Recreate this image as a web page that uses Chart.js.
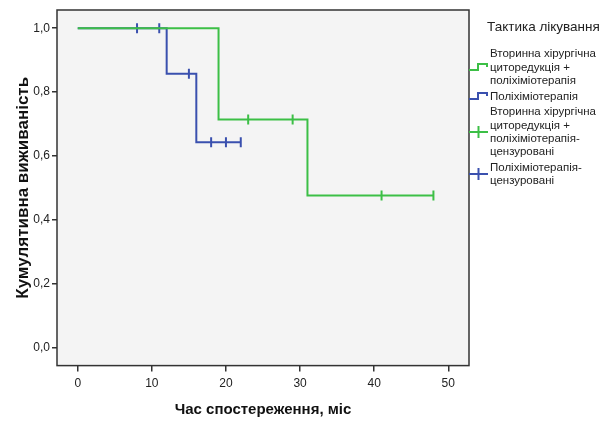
<!DOCTYPE html>
<html>
<head>
<meta charset="utf-8">
<script src="https://cdn.jsdelivr.net/npm/chart.js@4"></script>
<style>
  html, body { margin: 0; padding: 0; background: #fff; }
  .wrap { position: relative; width: 605px; height: 421px; }
  canvas { display: block; }
  .legend {
    position: absolute; left: 469px; top: 20px; width: 136px;
    font-family: "Liberation Sans Narrow", "Liberation Sans", Arial, sans-serif;
    font-size: 11.5px; line-height: 13.3px; color: #222;
  }
  .legend .title { font-size: 13.5px; margin: 0 0 14px 18px; }
  .legend .item { display: flex; align-items: center; margin-bottom: 2.5px; }
  .legend .item svg { flex: 0 0 21px; }
  .legend .item span { display: block; }
</style>
</head>
<body>
<div class="wrap">
  <canvas id="c" width="605" height="421"></canvas>
  <div class="legend" id="legend"></div>
</div>
<script>
// Kaplan-Meier steps (time, survival)
const chemoSurgeryTimes = [0, 19, 31, 48];
const chemoSurgerySurv = [1.0, 0.714, 0.476, 0.476];
const chemoTimes = [0, 12, 16, 22];
const chemoSurv = [1.0, 0.857, 0.643, 0.643];

// censored observations
const chemoSurgeryCensT = [23, 29, 41, 48];
const chemoSurgeryCensS = [0.714, 0.714, 0.476, 0.476];
const chemoCensT = [8, 11, 15, 18, 20, 22];
const chemoCensS = [1.0, 1.0, 0.857, 0.643, 0.643, 0.643];

const xTicks = [0, 10, 20, 30, 40, 50];
const yTicks = [0, 0.2, 0.4, 0.6, 0.8, 1.0];

const legendTitle = 'Тактика лікування';
const legendLabels = [
  'Вторинна хірургічна циторедукція + поліхіміотерапія',
  'Поліхіміотерапія',
  'Вторинна хірургічна циторедукція + поліхіміотерапія-цензуровані',
  'Поліхіміотерапія-цензуровані'
];
const legendLines = [
  ['Вторинна хірургічна', 'циторедукція +', 'поліхіміотерапія'],
  ['Поліхіміотерапія'],
  ['Вторинна хірургічна', 'циторедукція +', 'поліхіміотерапія-', 'цензуровані'],
  ['Поліхіміотерапія-', 'цензуровані']
];

const GREEN = '#3cbf46';
const BLUE = '#3a50ae';
const FONT = '"Liberation Sans Narrow", "Liberation Sans", Arial, sans-serif';

const pts = (xs, ys) => xs.map((x, i) => ({ x: x, y: ys[i] }));

const plotFrame = {
  id: 'plotFrame',
  beforeDatasetsDraw(chart) {
    const a = chart.chartArea, ctx = chart.ctx;
    ctx.save();
    ctx.fillStyle = '#f4f4f4';
    ctx.fillRect(a.left, a.top, a.right - a.left, a.bottom - a.top);
    ctx.restore();
  },
  afterDatasetsDraw(chart) {
    const a = chart.chartArea, ctx = chart.ctx;
    ctx.save();
    ctx.strokeStyle = '#333';
    ctx.lineWidth = 1.5;
    ctx.strokeRect(a.left, a.top, a.right - a.left, a.bottom - a.top);
    ctx.restore();
  }
};

new Chart(document.getElementById('c'), {
  type: 'scatter',
  data: {
    datasets: [
      { label: legendLabels[0], data: pts(chemoSurgeryTimes, chemoSurgerySurv), showLine: true,
        stepped: 'before', borderColor: GREEN, borderWidth: 2, pointRadius: 0 },
      { label: legendLabels[1], data: pts(chemoTimes, chemoSurv), showLine: true,
        stepped: 'before', borderColor: BLUE, borderWidth: 2, pointRadius: 0 },
      { label: legendLabels[2], data: pts(chemoSurgeryCensT, chemoSurgeryCensS), showLine: false,
        pointStyle: 'line', rotation: 90, pointRadius: 5, borderColor: GREEN, borderWidth: 2 },
      { label: legendLabels[3], data: pts(chemoCensT, chemoCensS), showLine: false,
        pointStyle: 'line', rotation: 90, pointRadius: 5, borderColor: BLUE, borderWidth: 2 }
    ]
  },
  options: {
    responsive: false,
    animation: false,
    layout: { padding: { left: 13, right: 136, top: 10, bottom: 0 } },
    plugins: { legend: { display: false }, tooltip: { enabled: false } },
    scales: {
      x: {
        type: 'linear', min: -2.8, max: 52.8,
        afterBuildTicks: s => { s.ticks = xTicks.map(v => ({ value: v })); },
        grid: { drawOnChartArea: false, color: '#333', tickLength: 6, lineWidth: 1.5 },
        border: { display: false },
        ticks: { color: '#222', font: { family: FONT, size: 12 }, padding: 5 },
        title: { display: true, text: 'Час спостереження, міс', color: '#111',
          font: { family: FONT, size: 15, weight: 'bold' }, padding: { top: 5, bottom: 2 } }
      },
      y: {
        type: 'linear', min: -0.057, max: 1.057,
        afterBuildTicks: s => { s.ticks = yTicks.map(v => ({ value: v })); },
        afterFit: s => { s.width = 44; },
        grid: { drawOnChartArea: false, color: '#333', tickLength: 5, lineWidth: 1.5 },
        border: { display: false },
        ticks: { color: '#222', font: { family: FONT, size: 12 }, padding: 2,
          callback: v => v.toFixed(1).replace('.', ',') },
        title: { display: true, text: 'Кумулятивна виживаність', color: '#111',
          font: { family: FONT, size: 17, weight: 'bold' }, padding: 0 }
      }
    }
  },
  plugins: [plotFrame]
});

// HTML legend
const icons = [
  c => `<svg width="21" height="12"><polyline points="0,9 9,9 9,3 18,3 18,6" fill="none" stroke="${c}" stroke-width="2"/></svg>`,
  c => `<svg width="21" height="12"><line x1="0" y1="6" x2="19" y2="6" stroke="${c}" stroke-width="2"/><line x1="9.5" y1="0" x2="9.5" y2="12" stroke="${c}" stroke-width="2"/></svg>`
];
const legendColors = [GREEN, BLUE, GREEN, BLUE];
let html = `<div class="title">${legendTitle}</div>`;
legendLines.forEach((lines, i) => {
  const icon = icons[i < 2 ? 0 : 1](legendColors[i]);
  html += `<div class="item">${icon}<span>${lines.join('<br>')}</span></div>`;
});
document.getElementById('legend').innerHTML = html;
</script>
</body>
</html>
